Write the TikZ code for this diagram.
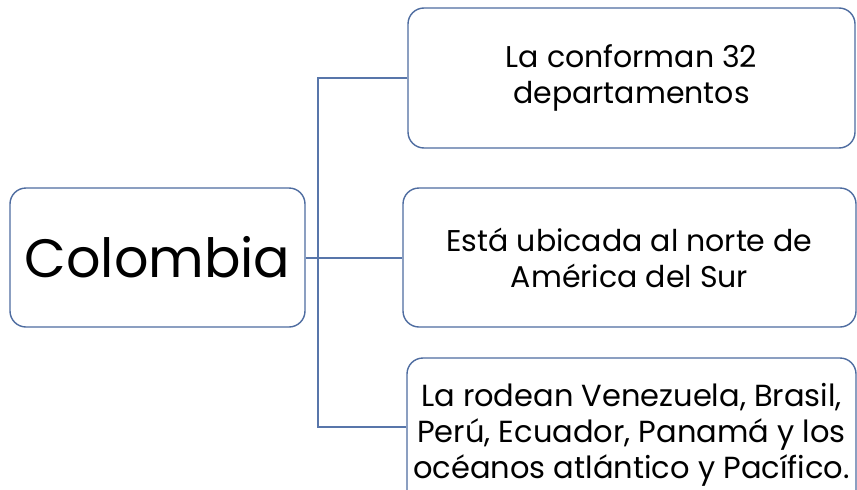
\documentclass[tikz,border=0pt]{standalone}
\usepackage{fontspec}
\setmainfont{Poppins}
\definecolor{boxblue}{RGB}{78,108,160}
\definecolor{lineblue}{RGB}{88,118,170}
\begin{document}
\begin{tikzpicture}[x=1pt,y=-1pt,
  box/.style={draw=boxblue,line width=1.4pt,rounded corners=16pt,fill=white,align=center,inner sep=0pt,text=black},
  conn/.style={draw=lineblue,line width=1.3pt}]
\useasboundingbox (0,0) rectangle (857,490);
\begin{scope}
\clip (0,0) rectangle (857,490);
\node[box,minimum width=295pt,minimum height=139pt,font=\fontsize{54}{60}\selectfont] (col) at (157.5,257.5) {Colombia};
\node[box,minimum width=447pt,minimum height=140pt,font=\fontsize{30}{36}\selectfont] (b1) at (631.5,78) {La conforman 32\\departamentos};
\node[box,minimum width=453pt,minimum height=139pt,font=\fontsize{30}{36}\selectfont] (b2) at (629.5,257.5) {Está ubicada al norte de\\América del Sur};
\node[box,minimum width=449pt,minimum height=154pt,font=\fontsize{30.5}{36}\selectfont] (b3) at (631.5,435) {La rodean Venezuela, Brasil,\\Perú, Ecuador, Panamá y los\\océanos atlántico y Pacífico.};
\coordinate (j) at (318,258);
\coordinate (b3in) at ([yshift=8pt]b3.west);
\draw[conn] (col.east |- j) -- (j);
\draw[conn] (b1.west) -| (j) |- (b3in);
\draw[conn] (j) -- (b2.west |- j);
\end{scope}
\end{tikzpicture}
\end{document}
